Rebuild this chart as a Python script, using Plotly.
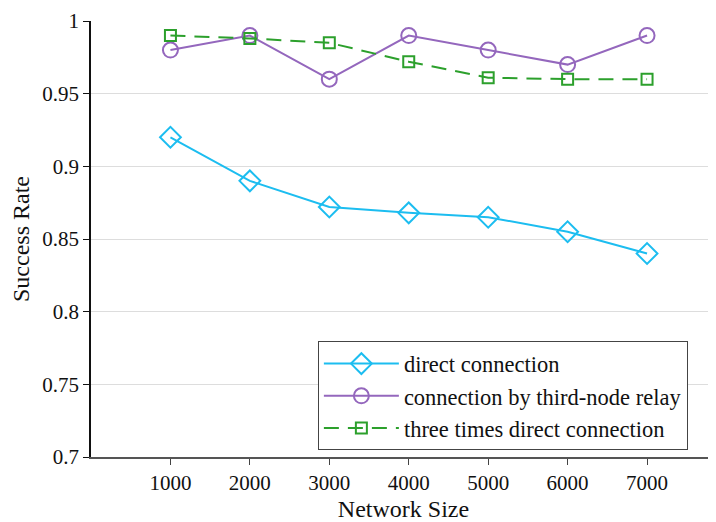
import plotly.graph_objects as go

network_size = [1000, 2000, 3000, 4000, 5000, 6000, 7000]
direct = [0.92, 0.89, 0.872, 0.868, 0.865, 0.855, 0.84]
relay = [0.98, 0.99, 0.96, 0.99, 0.98, 0.97, 0.99]
three_times = [0.99, 0.988, 0.985, 0.972, 0.961, 0.96, 0.96]
y_ticks = [0.7, 0.75, 0.8, 0.85, 0.9, 0.95, 1]
y_labels = ["0.7", "0.75", "0.8", "0.85", "0.9", "0.95", "1"]

fig = go.Figure()
fig.add_trace(go.Scatter(x=network_size, y=direct, name="direct connection",
                         mode="lines+markers",
                         line=dict(color="#1cbdf0", width=2),
                         marker=dict(symbol="diamond-open", size=16, color="#1cbdf0",
                                     line=dict(width=2))))
fig.add_trace(go.Scatter(x=network_size, y=relay, name="connection by third-node relay",
                         mode="lines+markers",
                         line=dict(color="#9467bd", width=2),
                         marker=dict(symbol="circle-open", size=15, color="#9467bd",
                                     line=dict(width=2))))
fig.add_trace(go.Scatter(x=network_size, y=three_times, name="three times direct connection",
                         mode="lines+markers",
                         line=dict(color="#2ca02c", width=2, dash="15px,9px"),
                         marker=dict(symbol="square-open", size=11, color="#2ca02c",
                                     line=dict(width=2))))

font = "Liberation Serif"
fig.update_layout(
    width=708, height=514,
    margin=dict(l=83, r=0, t=13, b=65),
    paper_bgcolor="white", plot_bgcolor="white",
    font=dict(family=font, size=21, color="#111"),
    showlegend=True,
    legend=dict(x=0.363, y=0.265, xanchor="left", yanchor="top",
                bgcolor="white", bordercolor="#444", borderwidth=1,
                font=dict(family=font, size=22.5, color="#111"),
                itemwidth=75, tracegroupgap=0),
    xaxis=dict(range=[0, 7868], tickvals=network_size,
               ticks="outside", ticklen=6, tickcolor="#444",
               tickfont=dict(family=font, size=21),
               showline=True, linecolor="#555", linewidth=2,
               showgrid=False, zeroline=False,
               title=dict(text="Network Size", font=dict(family=font, size=24), standoff=7)),
    yaxis=dict(range=[0.7, 1.0], tickvals=y_ticks, ticktext=y_labels,
               ticks="outside", ticklen=6, tickcolor="#111",
               tickfont=dict(family=font, size=21),
               showline=True, linecolor="#111", linewidth=1.5,
               showgrid=True, gridcolor="#dddddd", gridwidth=1, zeroline=False,
               title=dict(text="Success Rate", font=dict(family=font, size=24), standoff=6)),
)
fig.write_html("out.html")
